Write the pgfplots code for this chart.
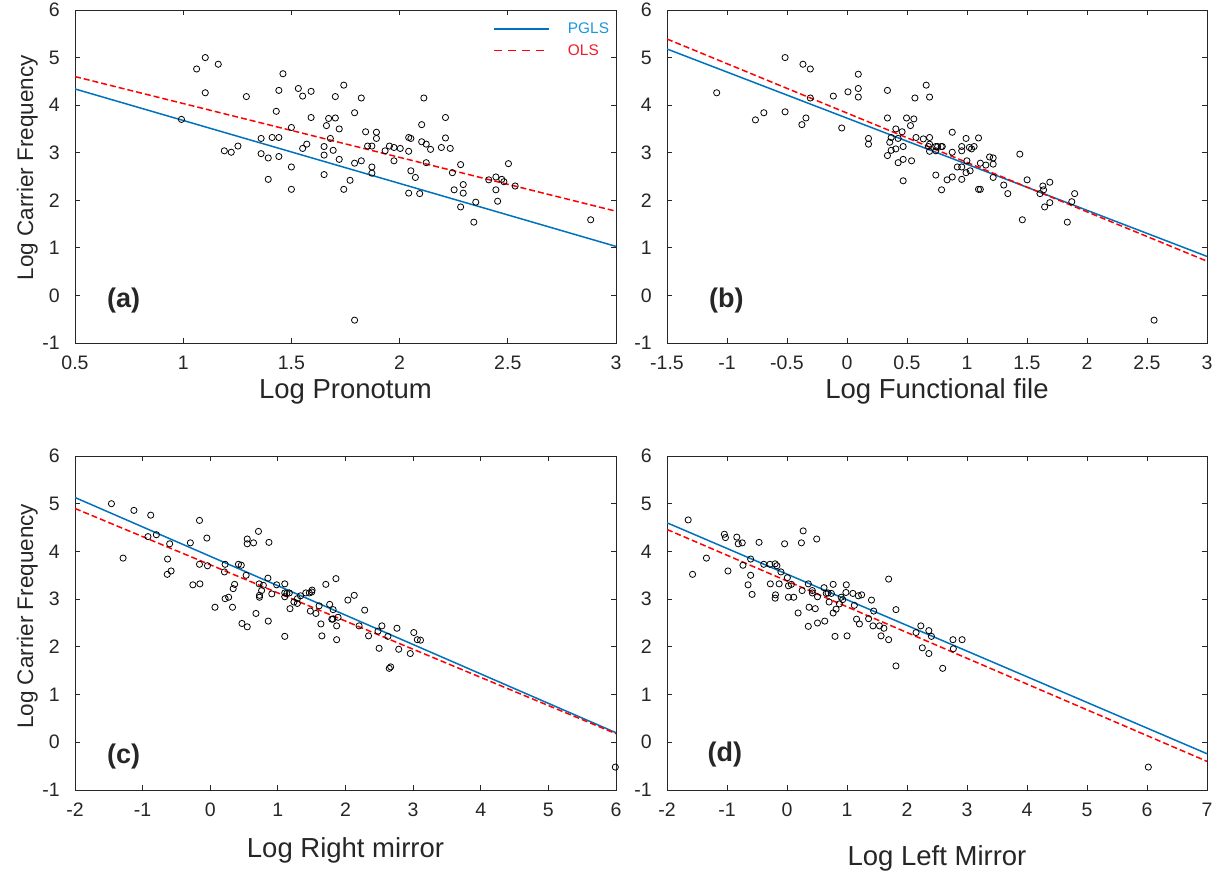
\documentclass[border=0pt]{standalone}
\usepackage{fontspec}
\setmainfont{Liberation Sans}
\usepackage{pgfplots}
\pgfplotsset{compat=1.18}
\usepackage{pgfplotstable}

\definecolor{pglsblue}{RGB}{0,114,189}
\definecolor{pglstext}{RGB}{30,150,220}
\definecolor{olsred}{RGB}{255,0,0}
\definecolor{olstext}{RGB}{240,30,40}
\definecolor{axgray}{RGB}{38,38,38}

\pgfplotstableread{
x y
1.102 5.00
1.062 4.76
1.162 4.86
1.102 4.26
0.992 3.70
1.292 4.18
1.190 3.04
1.222 3.01
1.253 3.14
1.461 4.66
1.442 4.31
1.430 3.87
1.360 3.30
1.411 3.32
1.442 3.32
1.360 2.98
1.393 2.89
1.442 2.92
1.393 2.44
1.500 3.53
1.500 2.70
1.500 2.23
1.532 4.35
1.552 4.19
1.591 4.29
1.591 3.74
1.552 3.09
1.571 3.18
1.651 3.13
1.651 2.95
1.651 2.54
1.662 3.57
1.672 3.72
1.703 3.73
1.703 4.18
1.742 4.42
1.721 3.50
1.680 3.30
1.693 3.05
1.721 2.86
1.742 2.23
1.771 2.42
1.792 3.84
1.823 4.15
1.792 2.78
1.823 2.83
1.843 3.44
1.852 3.14
1.872 3.14
1.872 2.70
1.872 2.57
1.893 3.43
1.893 3.30
1.792 -0.52
1.933 3.04
1.953 3.14
1.974 3.11
1.974 2.83
2.003 3.09
2.042 3.32
2.052 3.30
2.042 3.03
2.052 2.62
2.073 2.48
2.042 2.15
2.093 2.14
2.102 3.59
2.112 4.15
2.102 3.23
2.123 3.18
2.143 3.07
2.123 2.79
2.193 3.11
2.212 3.74
2.212 3.31
2.234 3.09
2.244 2.58
2.282 2.75
2.294 2.33
2.252 2.22
2.294 2.15
2.282 1.86
2.352 1.96
2.343 1.54
2.412 2.43
2.445 2.49
2.472 2.44
2.482 2.39
2.445 2.22
2.453 1.98
2.503 2.77
2.534 2.30
2.883 1.59
}\dataA

\pgfplotstableread{
x y
-1.086 4.26
-0.763 3.69
-0.693 3.84
-0.516 5.00
-0.516 3.86
-0.367 4.86
-0.306 4.76
-0.306 4.15
-0.376 3.59
-0.342 3.73
-0.114 4.19
-0.044 3.52
0.008 4.28
0.094 4.65
0.094 4.35
0.094 4.17
0.179 3.30
0.179 3.18
0.337 4.31
0.337 3.73
0.337 2.94
0.356 3.22
0.368 3.32
0.407 3.50
0.368 3.05
0.407 3.08
0.426 3.30
0.426 2.79
0.459 3.44
0.468 3.13
0.468 2.86
0.468 2.41
0.496 3.73
0.529 3.57
0.557 3.71
0.538 2.83
0.566 4.15
0.575 3.32
0.636 3.29
0.660 4.42
0.688 4.17
0.688 3.32
0.688 3.18
0.688 3.03
0.679 3.13
0.740 3.13
0.740 3.04
0.755 3.13
0.785 3.13
0.794 3.13
0.740 2.53
0.788 2.22
0.834 2.43
0.877 3.43
0.877 3.01
0.877 2.49
0.919 2.70
0.956 3.13
0.956 3.04
0.956 2.70
0.956 2.44
0.992 3.30
0.999 2.83
0.992 2.58
1.026 2.62
1.038 3.08
1.059 3.13
1.020 3.11
1.096 3.31
1.096 2.23
1.111 2.23
1.111 2.78
1.157 2.74
1.188 2.91
1.218 2.89
1.218 2.76
1.218 2.48
1.306 2.32
1.340 2.14
1.440 2.97
1.461 1.59
1.501 2.43
1.608 2.14
1.632 2.30
1.638 2.22
1.647 1.86
1.690 2.38
1.690 1.95
1.836 1.54
1.873 1.97
1.897 2.14
2.559 -0.52
}\dataB

\pgfplotstableread{
x y
-1.461 5.00
-1.129 4.86
-0.880 4.76
-1.289 3.86
-0.921 4.31
-0.797 4.35
-0.600 4.16
-0.631 3.84
-0.636 3.52
-0.579 3.59
-0.294 4.18
-0.159 4.65
-0.050 4.28
-0.159 3.73
-0.041 3.70
-0.257 3.30
-0.153 3.32
0.070 2.83
0.220 3.73
0.210 3.57
0.220 3.01
0.272 3.04
0.329 2.83
0.339 3.22
0.360 3.31
0.417 3.73
0.459 3.71
0.531 3.50
0.469 2.49
0.547 2.42
0.547 4.26
0.547 4.16
0.640 4.18
0.713 4.42
0.868 4.19
0.676 2.70
0.723 3.32
0.728 3.08
0.728 3.04
0.759 3.18
0.785 3.29
0.853 3.44
0.858 2.54
0.910 3.11
0.982 3.30
1.102 3.32
1.102 3.13
1.102 3.05
1.133 3.12
1.169 3.13
1.102 2.22
1.179 2.80
1.237 2.94
1.288 2.91
1.288 3.01
1.335 3.07
1.413 3.13
1.465 3.13
1.501 3.15
1.506 3.19
1.480 2.75
1.563 2.70
1.610 2.86
1.636 2.48
1.651 2.23
1.709 3.31
1.766 2.89
1.817 2.78
1.797 2.58
1.812 2.58
1.859 3.43
1.869 2.44
1.869 2.15
1.890 2.62
2.035 2.98
2.129 3.08
2.201 2.44
2.284 2.77
2.341 2.23
2.481 2.33
2.497 1.97
2.538 2.44
2.627 2.22
2.647 1.55
2.668 1.58
2.761 2.39
2.787 1.95
2.958 1.86
3.010 2.30
3.062 2.15
3.109 2.14
5.990 -0.52
}\dataC

\pgfplotstableread{
x y
-1.647 4.66
-1.574 3.52
-1.343 3.86
-1.044 4.36
-1.026 4.29
-0.984 3.59
-0.837 4.30
-0.813 4.16
-0.746 4.18
-0.734 3.71
-0.606 3.84
-0.606 3.50
-0.649 3.30
-0.582 3.10
-0.466 4.19
-0.387 3.73
-0.284 3.73
-0.278 3.32
-0.198 3.74
-0.168 3.70
-0.192 3.09
-0.198 3.02
-0.131 3.32
-0.101 3.57
-0.040 4.16
0.006 3.45
0.024 3.28
0.073 3.31
0.024 3.04
0.112 3.04
0.185 2.71
0.240 4.18
0.270 4.43
0.252 3.18
0.355 3.32
0.422 3.18
0.422 3.13
0.368 2.83
0.355 2.43
0.471 2.80
0.495 4.26
0.508 3.05
0.508 2.50
0.617 3.24
0.629 2.54
0.654 3.12
0.684 3.13
0.702 2.94
0.739 3.12
0.769 2.71
0.769 3.31
0.800 2.22
0.818 2.79
0.873 2.90
0.903 3.04
0.928 2.99
0.982 3.14
0.988 3.30
1.001 2.23
1.098 3.12
1.122 2.87
1.159 2.58
1.189 3.07
1.207 2.48
1.244 3.09
1.360 2.59
1.408 2.98
1.433 2.44
1.445 2.75
1.542 2.44
1.567 2.23
1.615 2.39
1.694 3.42
1.694 2.15
1.816 2.78
1.816 1.60
2.151 2.30
2.230 2.44
2.255 1.98
2.364 2.34
2.407 2.22
2.364 1.86
2.595 1.55
2.766 2.15
2.772 1.96
2.918 2.15
6.022 -0.52
}\dataD

\tikzset{
  plab/.style={font=\bfseries\fontsize{27}{32}\selectfont, text=axgray, anchor=center},
}
\pgfplotsset{
  panel/.style={
    scale only axis,
    axis line style={axgray, line width=0.9pt},
    every tick/.style={axgray, line width=0.9pt},
    tick align=inside,
    major tick length=5pt,
    ymin=-1, ymax=6,
    ytick={-1,0,1,2,3,4,5,6},
    yticklabels={-1,0,1,2,3,4,5,6},
    tick label style={font=\fontsize{19.5}{23}\selectfont, text=axgray},
    xticklabel style={anchor=north, inner sep=0pt, yshift=-13pt},
    yticklabel style={anchor=east, inner sep=0pt, xshift=-15pt},
    xlabel style={font=\fontsize{27.5}{32}\selectfont, text=axgray, anchor=base},
    ylabel style={font=\fontsize{22.5}{27}\selectfont, text=axgray, anchor=base},
  },
  scat/.style={only marks, mark=o, mark size=3.1pt, black, line width=0.8pt, forget plot},
  pgls/.style={pglsblue, line width=1.5pt},
  ols/.style={olsred, line width=1.5pt, dash pattern=on 6pt off 3pt},
}

\begin{document}
\begin{tikzpicture}
\useasboundingbox (0pt,0pt) rectangle (1213pt,872pt);

% (a)
\begin{axis}[panel,
  at={(75pt,529pt)}, anchor=south west,
  width=541pt, height=333pt,
  xmin=0.5, xmax=3,
  xtick={0.5,1,1.5,2,2.5,3},
  xticklabels={0.5,1,1.5,2,2.5,3},
  xlabel={Log Pronotum},
  xlabel style={at={(axis description cs:0.5,-0.1652)}},
  ylabel={Log Carrier Frequency},
  ylabel style={at={(axis description cs:-0.0776,0.527)}},
  legend cell align=left,
  legend style={draw=none, fill=none, inner sep=0pt, outer sep=0pt,
    at={(axis description cs:0.7726,0.9099)}, anchor=west,
    font=\fontsize{15.4}{18}\selectfont,
    nodes={inner sep=0pt, anchor=west},
    row sep=9pt,
    /tikz/every odd column/.append style={column sep=18pt}},
]
\addplot[scat] table[x=x,y=y] {\dataA};
\addplot[pgls, legend image code/.code={\draw[pglsblue, line width=2pt] (0pt,0pt) -- (55pt,0pt);}] coordinates {(0.5,4.34) (3,1.03)};
\addlegendentry{\textcolor{pglstext}{PGLS}}
\addplot[ols, legend image code/.code={\draw[olsred, line width=1pt, dash pattern=on 8pt off 6pt] (0pt,0pt) -- (55pt,0pt);}] coordinates {(0.5,4.60) (3,1.77)};
\addlegendentry{\textcolor{olstext}{OLS}}
\node[plab] at (rel axis cs:0.09,0.129) {(a)};
\end{axis}

% (b)
\begin{axis}[panel,
  at={(667pt,529pt)}, anchor=south west,
  width=540pt, height=333pt,
  xmin=-1.5, xmax=3,
  xtick={-1.5,-1,-0.5,0,0.5,1,1.5,2,2.5,3},
  xticklabels={-1.5,-1,-0.5,0,0.5,1,1.5,2,2.5,3},
  xlabel={Log Functional file},
  xlabel style={at={(axis description cs:0.5,-0.1652)}},
]
\addplot[scat] table[x=x,y=y] {\dataB};
\addplot[pgls] coordinates {(-1.5,5.18) (3,0.82)};
\addplot[ols] coordinates {(-1.5,5.39) (3,0.72)};
\node[plab] at (rel axis cs:0.110,0.129) {(b)};
\end{axis}

% (c)
\begin{axis}[panel,
  at={(75pt,82pt)}, anchor=south west,
  width=541pt, height=334pt,
  xmin=-2, xmax=6,
  xtick={-2,-1,0,1,2,3,4,5,6},
  xticklabels={-2,-1,0,1,2,3,4,5,6},
  xlabel={Log Right mirror},
  xlabel style={at={(axis description cs:0.5,-0.2036)}},
  ylabel={Log Carrier Frequency},
  ylabel style={at={(axis description cs:-0.0776,0.52)}},
]
\addplot[scat] table[x=x,y=y] {\dataC};
\addplot[pgls] coordinates {(-2,5.13) (6,0.20)};
\addplot[ols] coordinates {(-2,4.90) (6,0.18)};
\node[plab] at (rel axis cs:0.09,0.10) {(c)};
\end{axis}

% (d)
\begin{axis}[panel,
  at={(667pt,82pt)}, anchor=south west,
  width=540pt, height=334pt,
  xmin=-2, xmax=7,
  xtick={-2,-1,0,1,2,3,4,5,6,7},
  xticklabels={-2,-1,0,1,2,3,4,5,6,7},
  xlabel={Log Left Mirror},
  xlabel style={at={(axis description cs:0.5,-0.2246)}},
]
\addplot[scat] table[x=x,y=y] {\dataD};
\addplot[pgls] coordinates {(-2,4.60) (7,-0.24)};
\addplot[ols] coordinates {(-2,4.46) (7,-0.40)};
\node[plab] at (rel axis cs:0.107,0.107) {(d)};
\end{axis}
\end{tikzpicture}
\end{document}
